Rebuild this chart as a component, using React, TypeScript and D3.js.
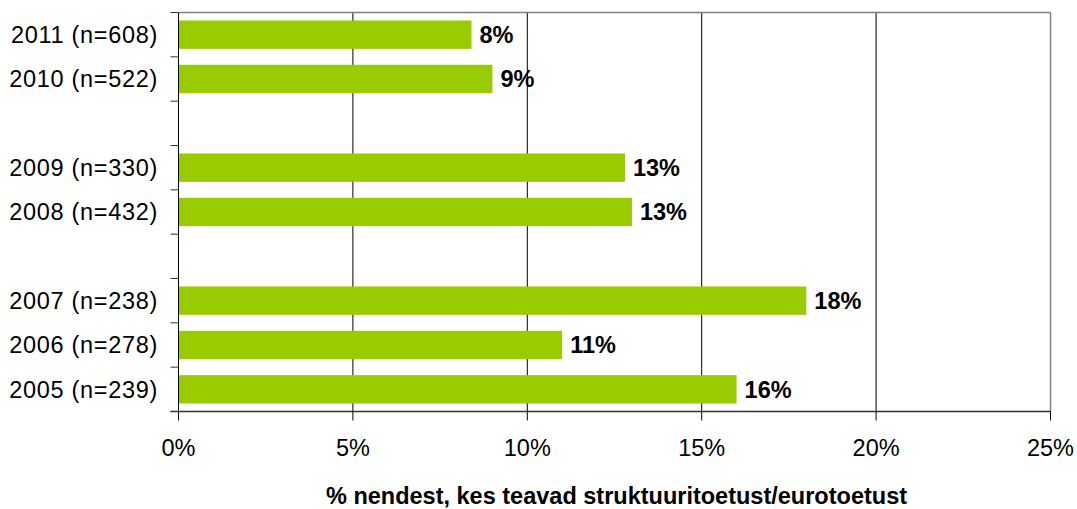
import React from "react";
import * as d3 from "d3";

const categories = ["2011 (n=608)", "2010 (n=522)", "", "2009 (n=330)", "2008 (n=432)", "", "2007 (n=238)", "2006 (n=278)", "2005 (n=239)"];
const values: (number | null)[] = [8.4, 9.0, null, 12.8, 13.0, null, 18.0, 11.0, 16.0];
const valueLabels = ["8%", "9%", "", "13%", "13%", "", "18%", "11%", "16%"];
const xTicks = [0, 5, 10, 15, 20, 25];
const axisTitle = "% nendest, kes teavad struktuuritoetust/eurotoetust";

const W = 1077, H = 509;
const left = 178.5, right = 1050.5, top = 12.5, bottom = 411.5;
const FONT = "'Liberation Sans', Arial, sans-serif";
const FS = 23.5;

export default function App() {
  const x = d3.scaleLinear().domain([0, 25]).range([left, right]);
  const y = d3.scaleBand<number>().domain(d3.range(categories.length)).range([top, bottom]).paddingInner(0.36).paddingOuter(0.18);
  const step = (bottom - top) / categories.length;
  const boundaries = d3.range(categories.length + 1).map(i => top + i * step);
  return (
    <svg width={W} height={H} style={{ position: "absolute", left: 0, top: 0 }} fontFamily={FONT}>
      <rect width={W} height={H} fill="#fff" />
      {xTicks.slice(1, -1).map(t => (
        <line key={t} x1={x(t)} x2={x(t)} y1={top} y2={bottom} stroke="#000" strokeWidth={1} />
      ))}
      <line x1={left} x2={right} y1={top} y2={top} stroke="#808080" strokeWidth={1.5} />
      <line x1={right} x2={right} y1={top} y2={bottom} stroke="#808080" strokeWidth={1.5} />
      {values.map((v, i) => v == null ? null : (
        <g key={i}>
          <rect x={x(0)} y={y(i)} width={x(v) - x(0)} height={y.bandwidth()} fill="#99CC00" />
          <text x={x(v) + 8} y={y(i)! + y.bandwidth() / 2} dy="0.36em" fontSize={FS} fontWeight="bold" fill="#000">{valueLabels[i]}</text>
        </g>
      ))}
      <line x1={left} x2={left} y1={top} y2={bottom} stroke="#000" strokeWidth={1} />
      <line x1={left - 8} x2={right} y1={bottom} y2={bottom} stroke="#333" strokeWidth={1.5} />
      {boundaries.map((b, i) => (
        <line key={i} x1={left - 8} x2={left} y1={b} y2={b} stroke="#333" strokeWidth={1} />
      ))}
      {categories.map((c, i) => c ? (
        <text key={i} x={158} y={top + (i + 0.5) * step} dy="0.36em" textAnchor="end" fontSize={FS} letterSpacing={0.7} fill="#000">{c}</text>
      ) : null)}
      {xTicks.map(t => (
        <g key={t}>
          <line x1={x(t)} x2={x(t)} y1={bottom} y2={bottom + 9} stroke="#000" strokeWidth={1} />
          <text x={x(t)} y={456} textAnchor="middle" fontSize={FS} fill="#000">{t}%</text>
        </g>
      ))}
      <text x={(left + right) / 2 + 2} y={504} textAnchor="middle" fontSize={FS} fontWeight="bold" fill="#000">{axisTitle}</text>
    </svg>
  );
}
